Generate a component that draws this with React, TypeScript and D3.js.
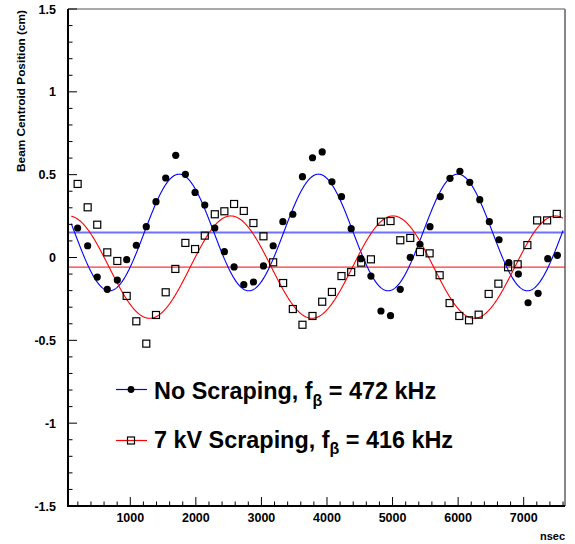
import React from "react";
import * as d3 from "d3";

// ---- data ----
const timeNoScrape = [197, 350, 496, 649, 802, 945, 1092, 1244, 1392, 1540, 1693, 1840, 1988, 2136, 2289, 2435, 2583, 2731, 2878, 3031, 3179, 3327, 3479, 3626, 3779, 3927, 4075, 4221, 4369, 4518, 4670, 4823, 4969, 5117, 5270, 5418, 5571, 5728, 5876, 6027, 6177, 6330, 6476, 6624, 6773, 6919, 7067, 7220, 7367, 7514];
const posNoScrape = [0.178, 0.071, -0.118, -0.192, -0.136, -0.013, 0.074, 0.186, 0.337, 0.48, 0.617, 0.502, 0.393, 0.317, 0.178, 0.035, -0.057, -0.164, -0.148, -0.051, 0.071, 0.216, 0.261, 0.488, 0.602, 0.637, 0.457, 0.367, 0.174, -0.007, -0.112, -0.323, -0.351, -0.192, 0.001, 0.08, 0.186, 0.367, 0.478, 0.52, 0.454, 0.349, 0.216, 0.107, -0.031, -0.1, -0.273, -0.216, -0.007, 0.013];

const timeScrape = [197, 350, 496, 649, 802, 945, 1092, 1244, 1392, 1540, 1687, 1840, 1988, 2136, 2289, 2435, 2583, 2731, 2878, 3031, 3179, 3331, 3479, 3626, 3779, 3927, 4075, 4221, 4369, 4522, 4670, 4823, 4969, 5118, 5270, 5418, 5565, 5718, 5870, 6018, 6166, 6313, 6466, 6614, 6762, 6908, 7056, 7205, 7357, 7504];
const posScrape = [0.444, 0.303, 0.198, 0.031, -0.021, -0.232, -0.385, -0.52, -0.347, -0.21, -0.069, 0.088, 0.051, 0.132, 0.261, 0.279, 0.323, 0.281, 0.208, 0.128, -0.029, -0.154, -0.311, -0.406, -0.353, -0.267, -0.208, -0.112, -0.088, -0.031, -0.011, 0.216, 0.22, 0.104, 0.118, 0.033, 0.025, -0.107, -0.275, -0.353, -0.379, -0.345, -0.22, -0.158, -0.059, -0.041, 0.075, 0.224, 0.224, 0.263];

// fitted sine parameters: [no scraping, 7 kV scraping]
const fitMean = [0.151, -0.058];
const fitAmp = [0.352, 0.309];
const fitPeriod = [2125, 2475];
const fitPeak = [1745, 2533];
const fitRange = [100, 7600];

const xMajorTicks = [1000, 2000, 3000, 4000, 5000, 6000, 7000];
const yMajorTicks = [-1.5, -1, -0.5, 0, 0.5, 1, 1.5];
const yTickLabels = ["-1.5", "-1", "-0.5", "0", "0.5", "1", "1.5"];

const W = 575;
const H = 544;
const FONT = "'Liberation Sans', Arial, Helvetica, sans-serif";

export default function App() {
  const x = d3.scaleLinear().domain([50, 7630]).range([68, 565]);
  const y = d3.scaleLinear().domain([-1.5, 1.5]).range([506, 9]);

  const xMinor = d3.range(200, 7630, 200).filter((v) => v % 1000 !== 0);
  const yMinor = d3.range(-14, 15, 1).map((v) => v / 10).filter((v) => Math.abs((v * 10) % 5) > 1e-6);

  const fitPath = (i: number) => {
    const pts = d3.range(fitRange[0], fitRange[1] + 1, 5).map((t) => [
      t,
      fitMean[i] + fitAmp[i] * Math.cos((2 * Math.PI * (t - fitPeak[i])) / fitPeriod[i]),
    ]);
    return d3
      .line<number[]>()
      .x((d) => x(d[0]))
      .y((d) => y(d[1]))(pts) as string;
  };

  const [x0, x1] = x.range();
  const [yb, yt] = y.range();

  return (
    <svg
      width={W}
      height={H}
      style={{ position: "absolute", left: 0, top: 0, background: "#fff" }}
      fontFamily={FONT}
    >
      <rect x={0} y={0} width={W} height={H} fill="#fff" />
      {/* frame */}
      <line x1={x0} x2={x1} y1={yt} y2={yt} stroke="#555" strokeWidth={1} />
      <line x1={x1} x2={x1} y1={yt} y2={yb} stroke="#888" strokeWidth={2} />

      {/* mean lines */}
      <line x1={x0} x2={x1} y1={y(fitMean[0])} y2={y(fitMean[0])} stroke="#7070ff" strokeWidth={2} />
      <line x1={x0} x2={x1} y1={y(fitMean[1])} y2={y(fitMean[1])} stroke="#ff0000" strokeWidth={1} />

      {/* fits */}
      <path d={fitPath(0)} fill="none" stroke="#0000ff" strokeWidth={1.1} />
      <path d={fitPath(1)} fill="none" stroke="#ff0000" strokeWidth={1.1} />

      {/* data: no scraping */}
      {timeNoScrape.map((t, i) => (
        <circle key={"c" + i} cx={x(t)} cy={y(posNoScrape[i])} r={3.6} fill="#000" />
      ))}
      {/* data: 7 kV scraping */}
      {timeScrape.map((t, i) => (
        <rect
          key={"s" + i}
          x={x(t) - 3.5}
          y={y(posScrape[i]) - 3.5}
          width={7}
          height={7}
          fill="none"
          stroke="#000"
          strokeWidth={1.2}
        />
      ))}

      {/* axes */}
      <line x1={x0} x2={x0} y1={yt} y2={yb + 1} stroke="#000" strokeWidth={2} />
      <line x1={x0 - 1} x2={x1} y1={yb} y2={yb} stroke="#000" strokeWidth={2} />
      {xMajorTicks.map((t) => (
        <line key={"xM" + t} x1={x(t)} x2={x(t)} y1={yb} y2={yb - 9} stroke="#000" strokeWidth={1} />
      ))}
      {xMinor.map((t) => (
        <line key={"xm" + t} x1={x(t)} x2={x(t)} y1={yb} y2={yb - 4.5} stroke="#000" strokeWidth={1} />
      ))}
      {yMajorTicks.map((t) => (
        <line key={"yM" + t} x1={x0} x2={x0 + 9} y1={y(t)} y2={y(t)} stroke="#000" strokeWidth={1} />
      ))}
      {yMinor.map((t) => (
        <line key={"ym" + t} x1={x0} x2={x0 + 4.5} y1={y(t)} y2={y(t)} stroke="#000" strokeWidth={1} />
      ))}
      {xMajorTicks.map((t) => (
        <text key={"xl" + t} x={x(t)} y={522} textAnchor="middle" fontSize={12.5} fontWeight="bold">
          {t}
        </text>
      ))}
      {yMajorTicks.map((t, i) => (
        <text key={"yl" + t} x={56} y={y(t) + 4.5} textAnchor="end" fontSize={12.5} fontWeight="bold">
          {yTickLabels[i]}
        </text>
      ))}
      <text x={565} y={540} textAnchor="end" fontSize={11} fontWeight="bold">
        nsec
      </text>
      <text
        transform="translate(25,10) rotate(-90)"
        textAnchor="end"
        fontSize={11.8}
        fontWeight="bold"
      >
        Beam Centroid Position (cm)
      </text>

      {/* legend */}
      <line x1={116} x2={147} y1={389.5} y2={389.5} stroke="#0000ff" strokeWidth={1.2} />
      <circle cx={131} cy={389.5} r={3.4} fill="#000" />
      <text x={154} y={399} fontSize={23.4} fontWeight="bold">
        No Scraping, f<tspan fontSize={16} dy={6.5}>β</tspan>
        <tspan dy={-6.5}> = 472 kHz</tspan>
      </text>
      <line x1={116} x2={147} y1={440.5} y2={440.5} stroke="#ff0000" strokeWidth={1.2} />
      <rect x={127.5} y={437} width={7} height={7} fill="none" stroke="#000" strokeWidth={1.2} />
      <text x={154} y={447.5} fontSize={23.4} fontWeight="bold">
        7 kV Scraping, f<tspan fontSize={16} dy={6.5}>β</tspan>
        <tspan dy={-6.5}> = 416 kHz</tspan>
      </text>
    </svg>
  );
}
